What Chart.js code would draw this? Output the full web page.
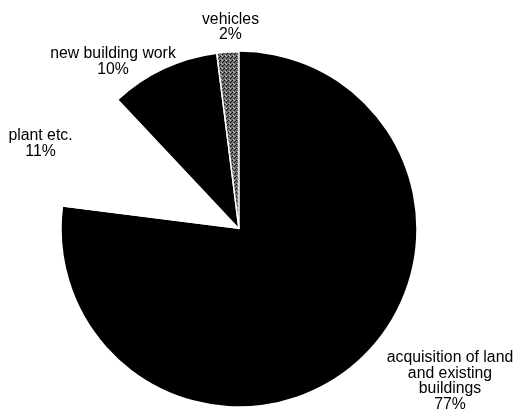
<!DOCTYPE html>
<html>
<head>
<meta charset="utf-8">
<script src="https://cdn.jsdelivr.net/npm/chart.js@4"></script>
<style>
  html, body { margin: 0; padding: 0; background: #fff; }
  #wrap { width: 514px; height: 410px; position: relative; }
</style>
</head>
<body>
<div id="wrap"><canvas id="c" width="514" height="410"></canvas></div>
<script>
// ---- data ----
const categories = ["acquisition of land and existing buildings", "plant etc.", "new building work", "vehicles"];
const shares = [77, 11, 10, 2];
const labelLines = [
  ["acquisition of land", "and existing", "buildings", "77%"],
  ["plant etc.", "11%"],
  ["new building work", "10%"],
  ["vehicles", "2%"]
];

// speckled grey pattern for the small slice
function makePattern() {
  const p = document.createElement('canvas');
  p.width = 4; p.height = 4;
  const g = p.getContext('2d');
  g.fillStyle = '#6e6e6e';
  g.fillRect(0, 0, 4, 4);
  g.fillStyle = '#111';
  g.fillRect(0, 0, 1, 1);
  g.fillRect(2, 2, 1, 1);
  g.fillRect(3, 1, 1, 1);
  g.fillStyle = '#b8b8b8';
  g.fillRect(1, 3, 1, 1);
  g.fillRect(2, 0, 1, 1);
  return g.createPattern(p, 'repeat');
}

const labelPlugin = {
  id: 'sliceLabels',
  afterDraw(chart, args, opts) {
    const ctx = chart.ctx;
    ctx.save();
    ctx.fillStyle = '#000';
    ctx.font = opts.font;
    ctx.textAlign = 'center';
    ctx.textBaseline = 'alphabetic';
    opts.anchors.forEach((a, i) => {
      labelLines[i].forEach((line, j) => {
        ctx.fillText(line, a.x, a.y + j * opts.lineHeight);
      });
    });
    ctx.restore();
  }
};

new Chart(document.getElementById('c'), {
  type: 'pie',
  data: {
    labels: categories,
    datasets: [{
      data: shares,
      backgroundColor: ['#000000', '#ffffff', '#000000', makePattern()],
      borderColor: '#ffffff',
      borderWidth: [0, 0, 1.5, 1.5],
      hoverOffset: 0
    }]
  },
  options: {
    responsive: false,
    animation: false,
    events: [],
    layout: { padding: { left: 61, top: 51, right: 97, bottom: 3 } },
    plugins: {
      legend: { display: false },
      tooltip: { enabled: false },
      sliceLabels: {
        font: '15.8px "Liberation Sans", Arial, sans-serif',
        lineHeight: 15.5,
        anchors: [
          { x: 450, y: 362 },
          { x: 40.5, y: 140 },
          { x: 113, y: 58 },
          { x: 230.5, y: 23.5 }
        ]
      }
    }
  },
  plugins: [labelPlugin]
});
</script>
</body>
</html>
